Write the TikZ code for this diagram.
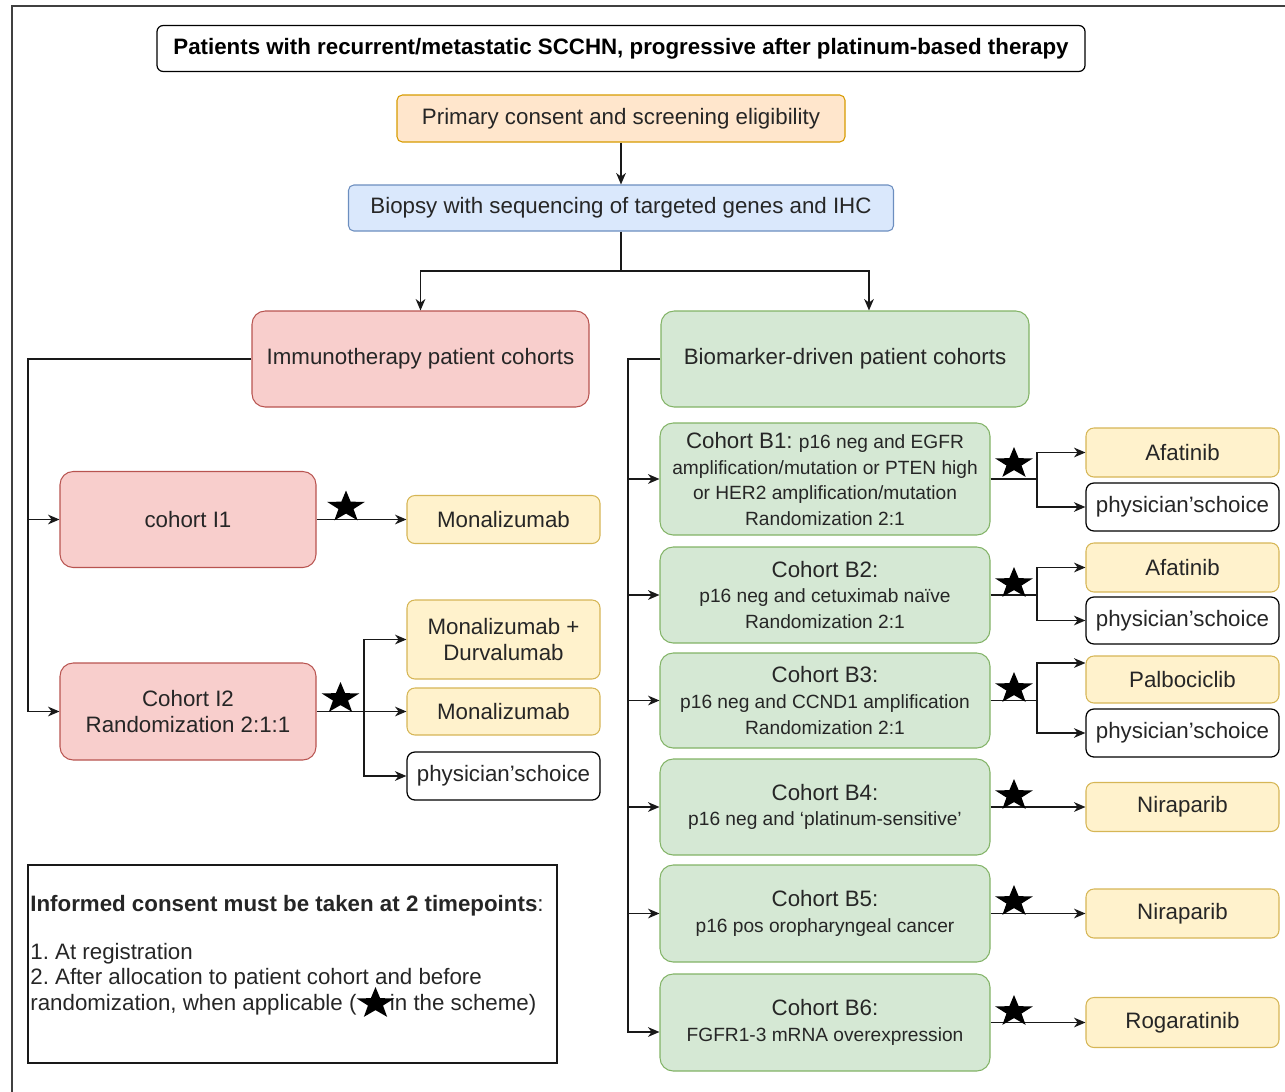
\documentclass[tikz,border=0pt]{standalone}
\usepackage{fontspec}
\setmainfont{Liberation Sans}
\usetikzlibrary{arrows.meta,shapes.geometric}
\definecolor{orF}{HTML}{FFE6CC}\definecolor{orD}{HTML}{D79B00}
\definecolor{blF}{HTML}{DAE8FC}\definecolor{blD}{HTML}{6C8EBF}
\definecolor{rdF}{HTML}{F8CECC}\definecolor{rdD}{HTML}{B85450}
\definecolor{gnF}{HTML}{D5E8D4}\definecolor{gnD}{HTML}{82B366}
\definecolor{ylF}{HTML}{FFF2CC}\definecolor{ylD}{HTML}{D6B656}
\definecolor{txt}{HTML}{262626}
\newcommand{\fbig}{\fontsize{12.7}{14.6}\selectfont}
\newcommand{\fsmall}{\fontsize{10.9}{14.6}\selectfont}
\frenchspacing
\begin{document}
\begin{tikzpicture}[x=0.02cm, y=-0.02cm,
  sz/.style 2 args={minimum width=#1*0.02cm, minimum height=#2*0.02cm},
  basebox/.style={inner sep=0pt, align=center, text=txt, font=\fbig, line width=0.6pt},
  titlebox/.style={basebox, draw=black, fill=white, rounded corners=3.5pt, line width=0.7pt, text=black},
  orbox/.style={basebox, draw=orD, fill=orF, rounded corners=3pt},
  blbox/.style={basebox, draw=blD, fill=blF, rounded corners=3pt},
  rdbox/.style={basebox, draw=rdD, fill=rdF, rounded corners=7.5pt},
  gnbox/.style={basebox, draw=gnD, fill=gnF, rounded corners=7.5pt},
  ylbox/.style={basebox, draw=ylD, fill=ylF, rounded corners=4.5pt},
  whbox/.style={basebox, draw=black, fill=white, rounded corners=4.5pt, line width=0.7pt},
  ln/.style={line width=0.85pt, draw=black!90},
  arr/.style={ln, -{Stealth[length=6.5pt,width=5.5pt,inset=2pt]}},
  starn/.style={star, star points=5, star point ratio=2.5, fill=black, draw=none, inner sep=0pt, minimum size=0.66cm, xscale=1.2, transform shape}
]
\useasboundingbox (0,0) rectangle (1285,1092);
% frame
\draw[line width=1.1pt, draw=black!75] (12,1092) -- (12,6) -- (1285,6);

% top boxes
\node[titlebox, sz={928}{46}] (title) at (621,48.5) {\textbf{Patients with recurrent/metastatic SCCHN, progressive after platinum-based therapy}};
\node[orbox, sz={448}{47}] (prim) at (621,118.5) {Primary consent and screening eligibility};
\node[blbox, sz={545}{46}] (bio) at (621,208) {Biopsy with sequencing of targeted genes and IHC};
\node[rdbox, sz={337}{96}] (imm) at (420.5,359) {Immunotherapy patient cohorts};
\node[gnbox, sz={368}{96}] (bm) at (845,359) {Biomarker-driven patient cohorts};

% immunotherapy cohorts
\node[rdbox, sz={256}{96}] (I1) at (188,519.5) {cohort I1};
\node[rdbox, sz={256}{97}] (I2) at (188,711.5) {Cohort I2\\Randomization 2:1:1};
\node[ylbox, sz={193}{48}] (M1) at (503.5,519.5) {Monalizumab};
\node[ylbox, sz={193}{79}] (MD) at (503.5,639.5) {Monalizumab +\\Durvalumab};
\node[ylbox, sz={193}{47}] (M2) at (503.5,711.5) {Monalizumab};
\node[whbox, sz={193}{48}] (P0) at (503.5,776) {physician’schoice};

% biomarker cohorts
\node[gnbox, sz={330}{112}] (B1) at (825,479) {Cohort B1: {\fsmall p16 neg and EGFR}\\\fsmall amplification/mutation or PTEN high\\\fsmall or HER2 amplification/mutation\\\fsmall Randomization 2:1};
\node[gnbox, sz={330}{96}] (B2) at (825,595) {Cohort B2:\\\fsmall p16 neg and cetuximab naïve\\\fsmall Randomization 2:1};
\node[gnbox, sz={330}{95}] (B3) at (825,700.5) {Cohort B3:\\\fsmall p16 neg and CCND1 amplification\\\fsmall Randomization 2:1};
\node[gnbox, sz={330}{96}] (B4) at (825,807) {Cohort B4:\\\fsmall p16 neg and ‘platinum-sensitive’};
\node[gnbox, sz={330}{97}] (B5) at (825,913.5) {Cohort B5:\\\fsmall p16 pos oropharyngeal cancer};
\node[gnbox, sz={330}{97}] (B6) at (825,1022.5) {Cohort B6:\\\fsmall FGFR1-3 mRNA overexpression};

% treatments
\node[ylbox, sz={193}{49}] (A1) at (1182.5,452.5) {Afatinib};
\node[whbox, sz={193}{48}] (P1) at (1182.5,507) {physician’schoice};
\node[ylbox, sz={193}{49}] (A2) at (1182.5,567.5) {Afatinib};
\node[whbox, sz={193}{47}] (P2) at (1182.5,620.5) {physician’schoice};
\node[ylbox, sz={193}{47}] (Pa) at (1182.5,679.5) {Palbociclib};
\node[whbox, sz={193}{48}] (P3) at (1182.5,733) {physician’schoice};
\node[ylbox, sz={193}{49}] (N1) at (1182.5,807) {Niraparib};
\node[ylbox, sz={193}{49}] (N2) at (1182.5,913.5) {Niraparib};
\node[ylbox, sz={193}{50}] (Ro) at (1182.5,1022.5) {Rogaratinib};

% legend
\node[draw=black!90, line width=0.7pt, sz={529}{198}, inner sep=0pt] (leg) at (292.5,964) {};
\node[anchor=west, inner sep=0pt, font=\fbig, text=txt] (legt) at (30,906) {\textbf{Informed consent must be taken at 2 timepoints}:};
\node[anchor=west, inner sep=0pt, font=\fbig, align=left, text=txt] (legb) at (30,979) {1. At registration\\2. After allocation to patient cohort and before\\randomization, when applicable (\hspace{1.5em}in the scheme)};

% connectors top
\draw[arr] (prim) -- (bio);
\coordinate (jt) at (621,271);
\coordinate (jl) at (420.5,271);
\coordinate (jr) at (869,271);
\draw[ln] (bio.south) -- (jt);
\draw[arr] (jt) -- (jl) -- (imm.north);
\draw[arr] (jt) -- (jr) -- (bm.north -| jr);

% left connectors
\coordinate (L1) at (28,359);
\coordinate (L2) at (28,711.5);
\draw[arr] (imm.west) -- (L1) -- (L2) -- (I2.west);
\draw[arr] (I1.west -| L1) -- (I1.west);
\draw[arr] (I1.east) -- (M1.west);
\coordinate (J0) at (364,711.5);
\draw[arr] (I2.east) -- (M2.west);
\draw[arr] (J0) |- (MD.west);
\draw[arr] (J0) |- (P0.west);

% right connectors
\coordinate (R1) at (628,359);
\draw[arr] (bm.west) -- (R1) |- ([yshift=-0.19cm]B6.west);
\foreach \b in {B1,B2,B3,B4,B5} \draw[arr] (\b.west -| R1) -- (\b.west);
\coordinate (J1) at (1037,479);
\coordinate (J2) at (1037,595);
\coordinate (J3) at (1037,700.5);
\draw[ln] (B1.east) -- (J1);
\draw[arr] (J1) |- (A1.west);
\draw[arr] (J1) |- (P1.west);
\draw[ln] (B2.east) -- (J2);
\draw[arr] (J2) |- (A2.west);
\draw[arr] (J2) |- (P2.west);
\draw[ln] (B3.east) -- (J3);
\draw[arr] (J3) |- ([yshift=0.33cm]Pa.west);
\draw[arr] (J3) |- (P3.west);
\draw[arr] (B4.east) -- (N1.west);
\draw[arr] (B5.east) -- (N2.west);
\draw[arr] (B6.east) -- (Ro.west);

% stars
\node[starn] (s1) at (346,507) {};
\node[starn] (s2) at (340.5,698.5) {};
\node[starn] (s3) at (1014,463.5) {};
\node[starn] (s4) at (1014,583.5) {};
\node[starn] (s5) at (1014,688.5) {};
\node[starn] (s6) at (1014,795.5) {};
\node[starn] (s7) at (1014,901.5) {};
\node[starn] (s8) at (1014,1011.5) {};
\node[starn] (s0) at (375.5,1003.5) {};
\end{tikzpicture}
\end{document}
